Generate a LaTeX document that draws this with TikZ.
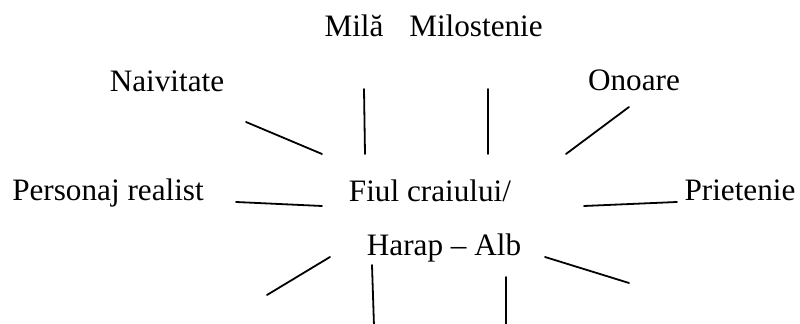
\documentclass[tikz,border=0pt]{standalone}
\usepackage{fontspec}
\setmainfont{Liberation Serif}
\usetikzlibrary{positioning}
\tikzset{
  word/.style={anchor=base, inner sep=0pt, font=\fontsize{15.6}{18}\selectfont},
  spoke/.style={line width=0.9pt, line cap=round}
}

\begin{document}
\begin{tikzpicture}[x=0.5pt, y=-0.5pt]
  \useasboundingbox (0,0) rectangle (800,324);

  % central title, two lines
  \node[word] (fiul) at (430,202) {Fiul craiului/};
  \node[word] (harap) at (444,256) {Harap -- Alb};

  % traits around it
  \node[word] (mila) at (354,37) {Milă};
  \node[word] (milost) at (476,37) {Milostenie};
  \node[word] (naiv) at (167,92) {Naivitate};
  \node[word] (onoare) at (634,91) {Onoare};
  \node[word] (realist) at (108,201) {Personaj realist};
  \node[word] (prieten) at (740,201) {Prietenie};

  % spoke ends
  \coordinate (naivA) at (246,122);  \coordinate (naivB) at (322,154);
  \coordinate (milaA) at (364,89);   \coordinate (milaB) at (365,154);
  \coordinate (milostA) at (488,89); \coordinate (milostB) at (488,154);
  \coordinate (onoareA) at (629,107); \coordinate (onoareB) at (566,154);
  \coordinate (realA) at (236,202);  \coordinate (realB) at (322,206);
  \coordinate (prietA) at (584,206); \coordinate (prietB) at (677,202);
  \coordinate (blA) at (330,257);    \coordinate (blB) at (267,295);
  \coordinate (bmlA) at (372,265);   \coordinate (bmlB) at (374,326);
  \coordinate (bmrA) at (506,277);   \coordinate (bmrB) at (506,326);
  \coordinate (brA) at (545,257);    \coordinate (brB) at (629,283);

  \draw[spoke] (naivA) -- (naivB);
  \draw[spoke] (milaA) -- (milaB);
  \draw[spoke] (milostA) -- (milostB);
  \draw[spoke] (onoareA) -- (onoareB);
  \draw[spoke] (realA) -- (realB);
  \draw[spoke] (prietA) -- (prietB);
  \draw[spoke] (blA) -- (blB);
  \draw[spoke] (bmlA) -- (bmlB);
  \draw[spoke] (bmrA) -- (bmrB);
  \draw[spoke] (brA) -- (brB);
\end{tikzpicture}
\end{document}
